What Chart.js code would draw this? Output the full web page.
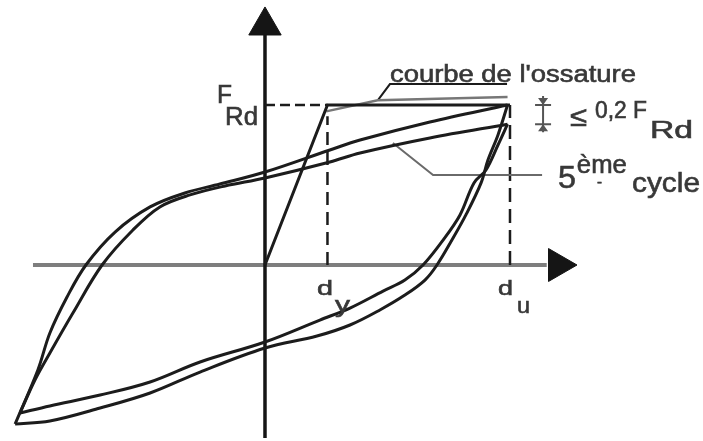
<!DOCTYPE html>
<html lang="fr">
<head>
<meta charset="utf-8">
<title>Cycles effort - déplacement</title>
<script src="https://cdn.jsdelivr.net/npm/chart.js@4"></script>
<style>
  html, body { margin: 0; padding: 0; background: #fff; }
  canvas { display: block; }
</style>
</head>
<body>
<canvas id="cycleChart" width="703" height="441"></canvas>
<script>
// déplacement d (d_u = 10) et effort F (F_Rd = 10)
const dY = 2.55;
const dU = 10;
const fRd = 10;

// courbe de l'ossature
const skeletonD = [0, dY, dU];
const skeletonF = [0, fRd, fRd];
const skeletonTopD = [2.5, 4.6, 9.9];
const skeletonTopF = [9.6, 10.3, 10.5];

// premier cycle (boucle extérieure)
const outerUpD = [-10.2, -9.27, -8.78, -8.08, -7.31, -6.12, -4.69, -3.27, -1.84, 0, 2.65, 3.88, 6.73, 9.9];
const outerUpF = [-9.94, -6.56, -4.25, -2.0, 0, 2.06, 3.63, 4.5, 5.06, 5.81, 7.19, 7.81, 8.94, 10.0];
const outerDownD = [9.9, 9.51, 9.10, 8.82, 8.20, 7.63, 7.02, 6.53, 5.71, 4.69, 3.47, 2.12, 0, -2.65, -4.69, -6.73, -8.78, -10.2];
const outerDownF = [10.0, 8.13, 6.56, 5.13, 3.13, 1.56, 0, -0.94, -1.88, -2.81, -3.75, -4.44, -5.19, -6.69, -8.0, -8.94, -9.75, -9.94];

// 5ème cycle (boucle intérieure)
const innerUpD = [-10.0, -9.39, -8.78, -7.84, -6.65, -5.39, -4.29, -3.06, -1.63, 0, 2.65, 3.88, 6.73, 9.9];
const innerUpF = [-9.25, -7.19, -5.5, -3.0, 0, 2.19, 3.63, 4.38, 4.94, 5.44, 6.44, 7.0, 7.94, 8.8];
const innerDownD = [9.9, 9.51, 9.02, 8.53, 7.96, 7.27, 6.45, 5.71, 4.82, 3.47, 2.24, 0, -2.65, -4.69, -6.73, -8.78, -10.0];
const innerDownF = [8.8, 7.5, 5.94, 5.13, 3.13, 1.56, 0, -0.94, -1.63, -2.69, -3.44, -4.81, -6.06, -7.31, -8.13, -8.81, -9.25];

// traits de rappel des légendes
const leaderSkeletonD = [9.88, 5.10, 4.61];
const leaderSkeletonF = [11.31, 11.31, 10.31];
const leaderCycleD = [5.22, 6.86, 11.31];
const leaderCycleF = [7.63, 5.63, 5.63];

// axes
const axisDRange = [-9.47, 11.5];
const axisFRange = [-10.81, 14.4];
const arrowD = 11.96;
const arrowF = 14.96;

function pts(xs, ys) {
    return xs.map((v, i) => ({ x: v, y: ys[i] }));
}

function curve(xs, ys, color, width, extra) {
    return Object.assign({
        data: pts(xs, ys),
        showLine: true,
        borderColor: color,
        borderWidth: width,
        pointRadius: 0,
        tension: 0.35,
        fill: false
    }, extra || {});
}

// textes : position en unités des axes, taille et largeur en pixels
const labels = [
    { text: "courbe de l'ossature", x: 5.10, y: 11.44, size: 23, width: 246 },
    { text: "F", x: -1.96, y: 10.13, size: 26, width: 15 },
    { text: "Rd", x: -1.63, y: 8.75, size: 25, width: 33 },
    { text: "d", x: 2.12, y: -1.88, size: 21, width: 16 },
    { text: "y", x: 2.86, y: -2.94, size: 22, width: 15 },
    { text: "d", x: 9.51, y: -1.88, size: 21, width: 15 },
    { text: "u", x: 10.29, y: -3.0, size: 22, width: 13 },
    { text: "\u2264", x: 12.45, y: 8.7, size: 28, width: 17 },
    { text: "0,2 F", x: 13.47, y: 9.19, size: 23, width: 52 },
    { text: "Rd", x: 15.71, y: 7.94, size: 23, width: 43 },
    { text: "5", x: 11.96, y: 4.81, size: 31, width: 18 },
    { text: "\u00e8me", x: 12.73, y: 5.75, size: 26, width: 50 },
    { text: "-", x: 13.55, y: 4.85, size: 16, width: 5 },
    { text: "cycle", x: 14.98, y: 4.56, size: 28, width: 68 }
];

const labelPlugin = {
    id: "figureLabels",
    afterDatasetsDraw(chart) {
        const ctx = chart.ctx;
        const sx = chart.scales.x;
        const sy = chart.scales.y;
        ctx.save();
        ctx.fillStyle = "#383838";
        ctx.strokeStyle = "#383838";
        ctx.lineWidth = 0.6;
        ctx.textBaseline = "alphabetic";
        labels.forEach(t => {
            ctx.font = t.size + 'px "Liberation Sans", Arial, sans-serif';
            const w = ctx.measureText(t.text).width;
            ctx.save();
            ctx.translate(sx.getPixelForValue(t.x), sy.getPixelForValue(t.y));
            ctx.scale(t.width / w, 1);
            ctx.fillText(t.text, 0, 0);
            ctx.strokeText(t.text, 0, 0);
            ctx.restore();
        });

        // cote entre F_Rd et le sommet du 5ème cycle
        const mx = sx.getPixelForValue(11.35);
        const yTop = sy.getPixelForValue(fRd);
        const yBot = sy.getPixelForValue(innerUpF[innerUpF.length - 1]);
        ctx.strokeStyle = "#555";
        ctx.fillStyle = "#555";
        ctx.lineWidth = 2;
        ctx.beginPath();
        ctx.moveTo(mx - 8, yTop); ctx.lineTo(mx + 8, yTop);
        ctx.moveTo(mx - 8, yBot); ctx.lineTo(mx + 8, yBot);
        ctx.moveTo(mx, yTop - 9); ctx.lineTo(mx, yBot + 8);
        ctx.stroke();
        ctx.beginPath();
        ctx.moveTo(mx, yTop); ctx.lineTo(mx - 5, yTop - 7); ctx.lineTo(mx + 5, yTop - 7); ctx.closePath();
        ctx.moveTo(mx, yBot); ctx.lineTo(mx - 5, yBot + 7); ctx.lineTo(mx + 5, yBot + 7); ctx.closePath();
        ctx.fill();
        ctx.restore();
    }
};

const ink = "#1c1c1c";

new Chart(document.getElementById("cycleChart"), {
    type: "scatter",
    data: {
        datasets: [
            curve(outerUpD, outerUpF, ink, 3),
            curve(outerDownD, outerDownF, ink, 3),
            curve(innerUpD, innerUpF, ink, 3),
            curve(innerDownD, innerDownF, ink, 3),
            curve(skeletonD, skeletonF, ink, 3, { tension: 0 }),
            curve(skeletonTopD, skeletonTopF, "#777", 2.5, { tension: 0 }),
            curve(leaderSkeletonD, leaderSkeletonF, ink, 2, { tension: 0 }),
            curve(leaderCycleD, leaderCycleF, "#6a6a6a", 2, { tension: 0 }),
            // pointillés F_Rd, d_y et d_u
            curve([0, dY], [fRd, fRd], ink, 2.5, { tension: 0, borderDash: [10, 5] }),
            curve([dY, dY], [0, 9.3], ink, 2.5, { tension: 0, borderDash: [13, 7] }),
            curve([dU, dU], [0, fRd], ink, 2.5, { tension: 0, borderDash: [14, 7] }),
            // axes et flèches
            curve([0, 0], axisFRange, "#151515", 3.5, { tension: 0 }),
            curve(axisDRange, [0, 0], "#7e7e7e", 4, { tension: 0 }),
            {
                data: [{ x: arrowD, y: 0 }],
                pointStyle: "triangle",
                pointRadius: 19,
                pointRotation: 90,
                backgroundColor: "#151515",
                borderColor: "#151515",
                borderWidth: 1
            },
            {
                data: [{ x: 0, y: arrowF }],
                pointStyle: "triangle",
                pointRadius: 18.7,
                pointRotation: 0,
                backgroundColor: "#151515",
                borderColor: "#151515",
                borderWidth: 1
            }
        ]
    },
    options: {
        responsive: false,
        animation: false,
        devicePixelRatio: 1,
        events: [],
        layout: { padding: 0, autoPadding: false },
        scales: {
            x: { type: "linear", min: -10.816, max: 17.878, display: false },
            y: { type: "linear", min: -11.0, max: 16.5625, display: false }
        },
        plugins: {
            legend: { display: false },
            tooltip: { enabled: false }
        }
    },
    plugins: [labelPlugin]
});
</script>
</body>
</html>
